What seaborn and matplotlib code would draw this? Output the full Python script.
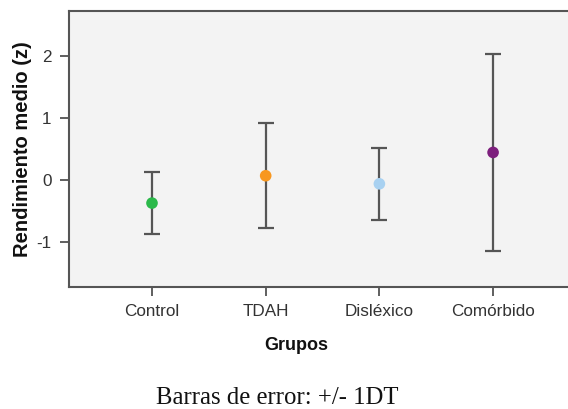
import matplotlib
matplotlib.use("Agg")
import matplotlib.pyplot as plt
import seaborn as sns
import pandas as pd

grupos = ["Control", "TDAH", "Disléxico", "Comórbido"]
medias = [-0.37, 0.07, -0.06, 0.445]
desv = [0.505, 0.846, 0.58, 1.585]
colores = ["#2BB94A", "#F8971F", "#A8D1F1", "#7D1F7D"]
yticks = [-1, 0, 1, 2]

sns.set_style("white")
plt.rcParams["font.family"] = ["Liberation Sans", "DejaVu Sans"]

df = pd.DataFrame({"grupo": grupos, "media": medias, "dt": desv})

W, H = 568, 409
fig = plt.figure(figsize=(W / 100, H / 100), dpi=100)
ax = fig.add_axes([69 / W, 1 - 287 / H, (W - 69) / W, (287 - 11) / H])
ax.set_facecolor("#F3F3F3")

x = list(range(len(grupos)))
ax.errorbar(x, df["media"], yerr=df["dt"], fmt="none", ecolor="#555555",
            elinewidth=1.6, capsize=6, capthick=1.6, zorder=2)
sns.scatterplot(data=df, x="grupo", y="media", hue="grupo", palette=colores,
                s=70, edgecolor="none", legend=False, ax=ax, zorder=3)

ax.set_xlim(-0.730, 3.659)
ax.set_ylim(-1.72, 2.72)
ax.set_yticks(yticks)
ax.set_yticklabels([str(v) for v in yticks])
ax.set_xticks(x)
ax.set_xticklabels(grupos)

for s in ["left", "bottom", "top"]:
    ax.spines[s].set_color("#555555")
    ax.spines[s].set_linewidth(1.5)
ax.spines["right"].set_visible(False)

ax.tick_params(axis="both", which="major", direction="out", length=6.5,
               width=1.2, color="#444444", labelcolor="#333333",
               labelsize=12.3, pad=6, left=True, bottom=True)

ax.set_xlabel("Grupos", fontsize=13, fontweight="bold", color="#111111")
ax.set_ylabel("Rendimiento medio (z)", fontsize=14.5, fontweight="bold",
              color="#111111")
ax.xaxis.set_label_coords((296.5 - 69) / (W - 69), -(345 - 287) / (287 - 11),
                          transform=ax.transAxes)
ax.xaxis.label.set_va("center")
ax.yaxis.set_label_coords(-(69 - 23) / (W - 69), 0.5)
ax.yaxis.label.set_va("center")

fig.text(277.5 / W, 4.5 / H, "Barras de error: +/- 1DT", ha="center",
         va="baseline", fontsize=17.8, family=["Liberation Serif", "DejaVu Serif"],
         color="#111111")

fig.savefig("out.png", dpi=100)
